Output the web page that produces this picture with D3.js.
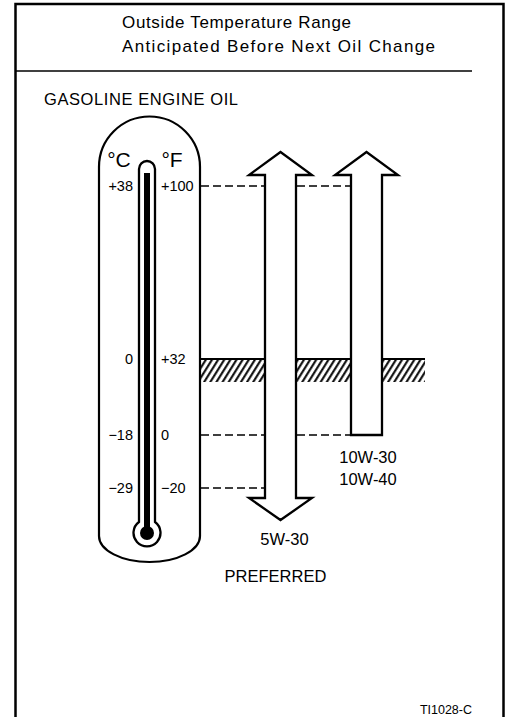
<!DOCTYPE html>
<html><head><meta charset="utf-8">
<script src="https://cdn.jsdelivr.net/npm/d3@7"></script>
<style>html,body{margin:0;padding:0;background:#fff;}svg{display:block;}</style>
</head><body>
<svg id="chart" width="505" height="717"></svg>
<script>
// ---- data ----
const titleLines = ["Outside Temperature Range", "Anticipated Before Next Oil Change"];
const sectionTitle = "GASOLINE ENGINE OIL";
const fahrenheitTicks = [100, 32, 0, -20];
const fahrenheitLabels = ["+100", "+32", "0", "\u221220"];
const celsiusLabels = ["+38", "0", "\u221218", "\u221229"];
const freezingF = 32;
const oilGrades = ["5W-30", "10W-30"];
const oilMinF = [-20, 0];
const oilMaxF = [100, 100];
const oilOpenLow = [true, false];
const oilLabels = [["5W-30"], ["10W-30", "10W-40"]];
const preferredLabel = "PREFERRED";
const figureId = "TI1028-C";

// ---- drawing ----
const svg = d3.select("#chart");
const FONT = "'Liberation Sans', Arial, Helvetica, sans-serif";

// non-linear diagram scale (piecewise)
const yF = d3.scaleLinear().domain([-20, 0, 32, 100]).range([488, 435, 359, 186]);
const xOil = d3.scalePoint().domain(oilGrades).range([280.5, 366.5]);

// frame
svg.append("rect").attr("x", 15.5).attr("y", 4).attr("width", 488).attr("height", 720)
  .attr("fill", "none").attr("stroke", "#000").attr("stroke-width", 2.5);

// titles
const titleW = [229, 313];
titleLines.forEach((t, i) => {
  svg.append("text").attr("x", 122).attr("y", 28 + i * 24).text(t)
    .attr("font-family", FONT).attr("font-size", 17).attr("fill", "#000")
    .attr("textLength", titleW[i]).attr("lengthAdjust", "spacing");
});
svg.append("line").attr("x1", 15).attr("x2", 472).attr("y1", 71).attr("y2", 71)
  .attr("stroke", "#000").attr("stroke-width", 1.6);
svg.append("text").attr("x", 44).attr("y", 105).text(sectionTitle)
  .attr("font-family", FONT).attr("font-size", 16.5).attr("fill", "#000")
  .attr("textLength", 194).attr("lengthAdjust", "spacing");

// thermometer capsule
const capL = 99, capR = 200, capCx = (capL + capR) / 2, capR0 = (capR - capL) / 2;
const capTopC = 167, capBot = 536;
const capPath = d3.path();
capPath.moveTo(capL, capBot);
capPath.lineTo(capL, capTopC);
capPath.arc(capCx, capTopC, capR0, Math.PI, 0);
capPath.lineTo(capR, capBot);
svg.append("path")
  .attr("d", capPath.toString() + ` A ${capR0} 26 0 0 1 ${capL} ${capBot}`)
  .attr("fill", "none").attr("stroke", "#000").attr("stroke-width", 2.2);

// tube
const tubeCx = 147, tubeHalf = 8, tubeTop = 161, bulbCy = 533;
svg.append("path")
  .attr("d", `M ${tubeCx - tubeHalf} ${bulbCy - 11} L ${tubeCx - tubeHalf} ${tubeTop + tubeHalf}
     A ${tubeHalf} ${tubeHalf} 0 0 1 ${tubeCx + tubeHalf} ${tubeTop + tubeHalf}
     L ${tubeCx + tubeHalf} ${bulbCy - 11}
     A 13.5 13.5 0 1 1 ${tubeCx - tubeHalf} ${bulbCy - 11} Z`)
  .attr("fill", "#fff").attr("stroke", "#000").attr("stroke-width", 2.3);
svg.append("rect").attr("x", tubeCx - 3).attr("y", 173).attr("width", 6).attr("height", bulbCy - 173)
  .attr("fill", "#000");
svg.append("circle").attr("cx", tubeCx).attr("cy", bulbCy).attr("r", 7).attr("fill", "#000");

// unit labels
svg.append("text").attr("x", 119).attr("y", 167).attr("text-anchor", "middle").text("\u00B0C")
  .attr("font-family", FONT).attr("font-size", 21);
svg.append("text").attr("x", 172).attr("y", 167).attr("text-anchor", "middle").text("\u00B0F")
  .attr("font-family", FONT).attr("font-size", 21);

// tick labels
fahrenheitTicks.forEach((f, i) => {
  const y = yF(f) + 5;
  svg.append("text").attr("x", 133).attr("y", y).attr("text-anchor", "end").text(celsiusLabels[i])
    .attr("font-family", FONT).attr("font-size", 14.5);
  svg.append("text").attr("x", 161).attr("y", y).attr("text-anchor", "start").text(fahrenheitLabels[i])
    .attr("font-family", FONT).attr("font-size", 14.5);
});

// hatch pattern for freezing band
const defs = svg.append("defs");
const pat = defs.append("pattern").attr("id", "hatch").attr("patternUnits", "userSpaceOnUse")
  .attr("width", 5.2).attr("height", 10).attr("patternTransform", "rotate(32)");
pat.append("line").attr("x1", 1.2).attr("x2", 1.2).attr("y1", -1).attr("y2", 11)
  .attr("stroke", "#000").attr("stroke-width", 2);
svg.append("rect").attr("x", capR).attr("y", yF(freezingF)).attr("width", 425 - capR).attr("height", 23)
  .attr("fill", "url(#hatch)");
svg.append("line").attr("x1", capR).attr("x2", 425).attr("y1", yF(freezingF)).attr("y2", yF(freezingF))
  .attr("stroke", "#000").attr("stroke-width", 2.2);

// dashed reference lines
const shaftHalf = 15.5;
fahrenheitTicks.filter(f => f !== freezingF).forEach(f => {
  let endX = capR;
  oilGrades.forEach((g, i) => {
    if (f >= oilMinF[i] && f <= oilMaxF[i]) endX = Math.max(endX, xOil(g) - shaftHalf);
  });
  svg.append("line").attr("x1", capR + 1).attr("x2", endX).attr("y1", yF(f)).attr("y2", yF(f))
    .attr("stroke", "#000").attr("stroke-width", 1.7).attr("stroke-dasharray", "8,4");
});

// arrows
const headHalf = 31.5, headH = 23;
oilGrades.forEach((g, i) => {
  const cx = xOil(g);
  const topBase = yF(oilMaxF[i]) - 11;
  const p = d3.path();
  p.moveTo(cx - shaftHalf, topBase);
  p.lineTo(cx - headHalf, topBase);
  p.lineTo(cx, topBase - headH);
  p.lineTo(cx + headHalf, topBase);
  p.lineTo(cx + shaftHalf, topBase);
  if (oilOpenLow[i]) {
    const botBase = yF(oilMinF[i]) + 10;
    p.lineTo(cx + shaftHalf, botBase);
    p.lineTo(cx + headHalf, botBase);
    p.lineTo(cx, botBase + 22);
    p.lineTo(cx - headHalf, botBase);
    p.lineTo(cx - shaftHalf, botBase);
  } else {
    const bot = yF(oilMinF[i]);
    p.lineTo(cx + shaftHalf, bot);
    p.lineTo(cx - shaftHalf, bot);
  }
  p.closePath();
  svg.append("path").attr("d", p.toString()).attr("fill", "#fff")
    .attr("stroke", "#000").attr("stroke-width", 2.3).attr("stroke-linejoin", "miter");
});

// oil labels
svg.append("text").attr("x", xOil(oilGrades[0]) + 4).attr("y", 545).attr("text-anchor", "middle")
  .text(oilLabels[0][0]).attr("font-family", FONT).attr("font-size", 16.5);
svg.append("text").attr("x", xOil(oilGrades[0]) - 5).attr("y", 582).attr("text-anchor", "middle")
  .text(preferredLabel).attr("font-family", FONT).attr("font-size", 16.5);
oilLabels[1].forEach((t, j) => {
  svg.append("text").attr("x", xOil(oilGrades[1]) + 1.5).attr("y", 463 + j * 22).attr("text-anchor", "middle")
    .text(t).attr("font-family", FONT).attr("font-size", 16.5);
});

// figure id
svg.append("text").attr("x", 472).attr("y", 714).attr("text-anchor", "end").text(figureId)
  .attr("font-family", FONT).attr("font-size", 12.5);
</script>
</body></html>
